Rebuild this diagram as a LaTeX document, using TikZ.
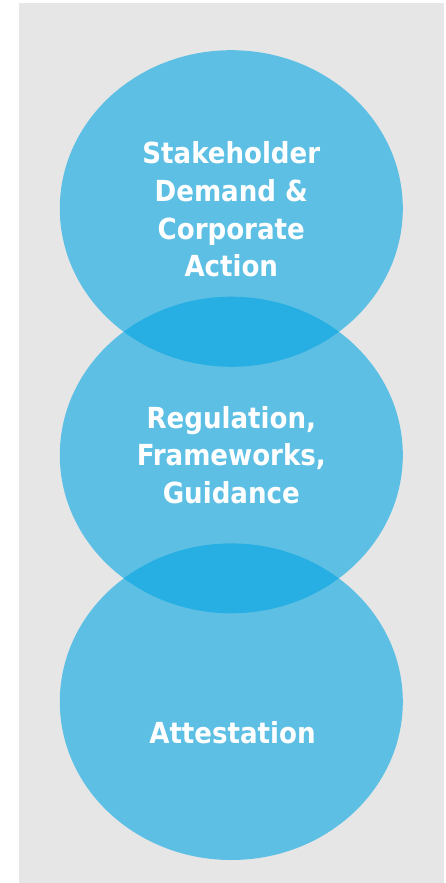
\documentclass[tikz,border=0pt]{standalone}
\usepackage{fontspec}
\setmainfont{DejaVu Sans Condensed}
\usetikzlibrary{shapes.geometric}

\definecolor{bubble}{RGB}{3,165,227}
\definecolor{panel}{RGB}{230,230,230}

\tikzset{
    bubble/.style={ellipse, fill=bubble, fill opacity=0.6, draw=none,
        minimum width=343pt, minimum height=316.6pt, inner sep=0pt},
    label/.style={text=white, align=center, inner sep=0pt,
        font=\bfseries\fontsize{29}{37.7}\selectfont}
}

\begin{document}
\begin{tikzpicture}[x=1pt,y=-1pt]
    \useasboundingbox (0,0) rectangle (446,883);

    % Draw the grey panel
    \fill[panel] (19,3) rectangle (443.7,883);

    % Draw the bubbles
    \node[bubble] (demand) at (231.3,208.5) {};
    \node[bubble] (rules) at (231.3,455) {};
    \node[bubble] (attest) at (231.3,701.7) {};

    % Label the bubbles
    \node[label] (demandtext) at (231.3,209.5) {Stakeholder\\Demand \&\\Corporate\\Action};
    \node[label] (rulestext) at (231.3,455) {Regulation,\\Frameworks,\\Guidance};
    \node[label] (attesttext) at (232.5,732.5) {Attestation};
\end{tikzpicture}
\end{document}
